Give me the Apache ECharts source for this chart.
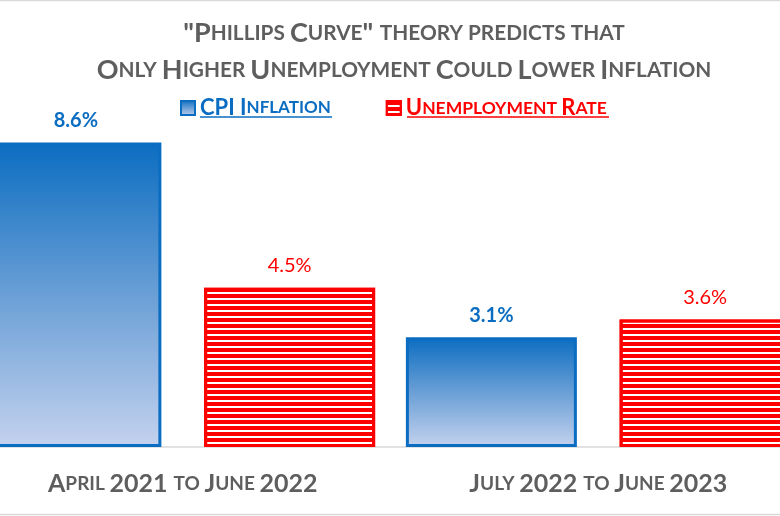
<!DOCTYPE html>
<html lang="en">
<head>
    <meta charset="UTF-8">
    <title>Phillips Curve</title>
    <script src="https://cdn.jsdelivr.net/npm/echarts@6/dist/echarts.min.js"></script>
</head>
<body style="margin: 0">
<div id="main" style="width: 780px; height: 516px"></div>
<script type="text/javascript">
    var categories = ['April 2021 to June 2022', 'July 2022 to June 2023'];
    var cpiInflation = [8.6, 3.1];
    var unemploymentRate = [4.5, 3.6];
    var seriesNames = ['CPI Inflation', 'Unemployment Rate'];
    var titleLines = ['"Phillips Curve" theory predicts that', 'Only Higher Unemployment Could Lower Inflation'];

    var FONT = 'Lato';
    var BLUE = '#0b6dc1';
    var RED = '#ff0000';
    var GRAY = '#5e5e5e';

    // fake small caps: lowercase letters become smaller uppercase
    function smallCaps(str, big, small) {
        var out = '', run = '', cur = null;
        for (var i = 0; i < str.length; i++) {
            var ch = str[i];
            var s = ch !== ch.toUpperCase();
            if (ch === ' ') s = cur === null ? false : cur;
            if (cur !== null && s !== cur) {
                out += '{' + (cur ? small : big) + '|' + run + '}';
                run = '';
            }
            cur = s;
            run += s ? ch.toUpperCase() : ch;
        }
        if (run) out += '{' + (cur ? small : big) + '|' + run + '}';
        return out;
    }

    var myChart = echarts.init(document.getElementById('main'));
    var option = {
        backgroundColor: '#fff',
        title: {
            text: titleLines.map(function (l) { return smallCaps(l, 'b', 's'); }).join('\n'),
            left: 404,
            textAlign: 'center',
            top: 15,
            padding: 0,
            textStyle: {
                rich: {
                    b: {fontFamily: FONT, fontSize: 27, color: GRAY, lineHeight: 37},
                    s: {fontFamily: FONT, fontSize: 20.8, color: GRAY, lineHeight: 37}
                }
            }
        },
        legend: {
            left: 180,
            top: 97,
            padding: 0,
            icon: 'rect',
            itemWidth: 14,
            itemHeight: 14,
            itemGap: 55,
            data: seriesNames,
            formatter: function (name) {
                return name === seriesNames[0] ? smallCaps(name, 'bb', 'bs') : smallCaps(name, 'rb', 'rs');
            },
            textStyle: {
                rich: {
                    bb: {fontFamily: FONT, fontWeight: 'bold', fontSize: 22, color: BLUE, lineHeight: 24},
                    bs: {fontFamily: FONT, fontWeight: 'bold', fontSize: 17, color: BLUE, lineHeight: 24},
                    rb: {fontFamily: FONT, fontWeight: 'bold', fontSize: 22, color: RED, lineHeight: 24},
                    rs: {fontFamily: FONT, fontWeight: 'bold', fontSize: 17.5, color: RED, lineHeight: 24}
                }
            }
        },
        graphic: [
            {type: 'line', shape: {x1: 200, y1: 117, x2: 332, y2: 117}, style: {stroke: BLUE, lineWidth: 1.5}},
            {type: 'line', shape: {x1: 407, y1: 117, x2: 609, y2: 117}, style: {stroke: RED, lineWidth: 1.5}},
            {type: 'rect', shape: {x: -2, y: 0.5, width: 784, height: 514}, style: {fill: null, stroke: '#d9d9d9', lineWidth: 1.5}}
        ],
        grid: {left: -25, right: -26, top: 93, height: 354, outerBoundsMode: 'none', containLabel: false},
        xAxis: {
            type: 'category',
            data: categories,
            axisLine: {lineStyle: {color: '#d9d9d9', width: 1.5}},
            axisTick: {show: false},
            axisLabel: {
                margin: 24,
                formatter: function (v) { return smallCaps(v, 'b', 's'); },
                rich: {
                    b: {fontFamily: FONT, fontWeight: 'bold', fontSize: 25, color: GRAY},
                    s: {fontFamily: FONT, fontWeight: 'bold', fontSize: 19, color: GRAY}
                }
            }
        },
        yAxis: {type: 'value', min: 0, max: 10, show: false, splitLine: {show: false}},
        series: [
            {
                name: seriesNames[0],
                type: 'bar',
                data: cpiInflation,
                barWidth: 171,
                barGap: '25%',
                itemStyle: {
                    color: new echarts.graphic.LinearGradient(0, 0, 0, 1, [
                        {offset: 0, color: '#0b6dc1'},
                        {offset: 0.5, color: '#6a9fd6'},
                        {offset: 1, color: '#c4d2ee'}
                    ]),
                    borderColor: BLUE,
                    borderWidth: 3
                },
                label: {
                    show: true, position: 'top', distance: 12, formatter: '{c}%',
                    fontFamily: FONT, fontWeight: 'bold', fontSize: 20, color: BLUE
                }
            },
            {
                name: seriesNames[1],
                type: 'bar',
                data: unemploymentRate,
                barWidth: 171,
                itemStyle: {
                    color: '#fff',
                    borderColor: RED,
                    borderWidth: 3,
                    decal: {symbol: 'rect', symbolSize: 1, color: RED, dashArrayX: [1, 0], dashArrayY: [4, 2], rotation: 0}
                },
                label: {
                    show: true, position: 'top', distance: 12, formatter: '{c}%',
                    fontFamily: FONT, fontSize: 20, color: RED
                }
            }
        ]
    };
    myChart.setOption(option);
</script>
</body>
</html>
